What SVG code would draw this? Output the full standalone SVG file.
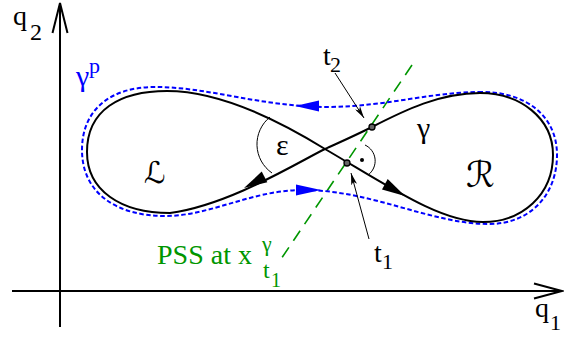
<svg xmlns="http://www.w3.org/2000/svg" width="564" height="338" viewBox="0 0 564 338">
<style>
.lbl{font-family:"Liberation Serif","DejaVu Serif",serif;fill:#000}
.big{font-size:28px}
.sub{font-size:22px}
.blue{fill:#0000ff}
.green{fill:#009600}
.script{font-family:"DejaVu Serif","DejaVu Sans",serif;font-style:italic}
.axis{stroke:#000;stroke-width:2;fill:none}
.gamma{stroke:#000;stroke-width:2;fill:none}
.gp{stroke:#0000ff;stroke-width:2;fill:none;stroke-dasharray:4.5 2.5}
.pss{stroke:#009600;stroke-width:1.6;fill:none;stroke-dasharray:12 8}
.thin{stroke:#000;stroke-width:1;fill:none}
.pt{stroke:#000;stroke-width:1.3;fill:#666}
</style>
<defs>
<marker id="ptr" viewBox="0 0 12 6" refX="12" refY="3" markerWidth="12" markerHeight="6" markerUnits="userSpaceOnUse" orient="auto">
<path d="M0,0 L12,3 L0,6 L3,3 Z" fill="#000"/>
</marker>
</defs>

<g id="axes">
<line class="axis" x1="60" y1="327" x2="60" y2="3"/>
<polyline class="axis" points="52.5,33 60,3 67.5,33"/>
<line class="axis" x1="12" y1="291" x2="562" y2="291"/>
<polyline class="axis" points="534,283.5 562,291 534,298.5"/>
</g>

<g id="pss-line">
<line class="pss" x1="412" y1="65" x2="279" y2="262"/>
</g>

<g id="gamma-p">
<path class="gp" d="M482,92 C430,92 390,106 330,107 C260,107 210,87 155,87 C110,87 82,110 82,150 C82,192 115,216 165,216 C210,216 250,191 300,190 C370,189 430,224 489,224 C530,224 557,195 557,155 C557,115 525,92 482,92 Z"/>
<polygon points="295,106 319,100.5 319,111.5" fill="#0000ff"/>
<polygon points="321,190 296,184.5 296,195.5" fill="#0000ff"/>
</g>

<g id="gamma">
<path class="gamma" d="M325,149 C390,187 440,222 483,222 C522,222 553,195 553,155 C553,118 520,93 480,93 C440,93 405,110 372,127 C352,137 338,143 325,149 C300,161 230,205 170,213 C120,213 87,190 87,152 C87,110 120,91 167,91 C215,91 270,115 325,149 Z"/>
<polygon points="405,196 382,189.5 387.7,179" fill="#000"/>
<polygon points="244,188 261.7,171.6 267.3,182.2" fill="#000"/>
</g>

<g id="angles">
<path class="thin" d="M270,117 A35,35 0 0 0 272,173"/>
<path class="thin" d="M365,145 A17.5,17.5 0 0 1 368,175"/>
<circle cx="362" cy="160" r="2" fill="#000"/>
</g>

<g id="points">
<circle class="pt" cx="372" cy="127" r="3"/>
<circle class="pt" cx="347" cy="163" r="3"/>
</g>

<g id="connectors">
<line class="thin" x1="335" y1="73" x2="364" y2="118" marker-end="url(#ptr)"/>
<line class="thin" x1="369" y1="239" x2="351" y2="173" marker-end="url(#ptr)"/>
</g>

<g id="labels">
<text class="lbl big" x="13" y="25">q</text>
<text class="lbl" style="font-size:24px" x="30" y="40">2</text>
<text class="lbl big" x="535" y="317">q</text>
<text class="lbl" style="font-size:22px" x="550" y="330">1</text>
<text class="lbl big blue" x="76" y="86" style="font-size:30px">γ</text>
<text class="lbl sub blue" x="89" y="73">p</text>
<text class="lbl" style="font-size:30px" x="276" y="155">ε</text>
<text class="lbl" style="font-size:30px" x="417" y="138">γ</text>
<text class="lbl big" x="323" y="65">t</text>
<text class="lbl sub" x="330" y="72">2</text>
<text class="lbl big" x="374" y="262">t</text>
<text class="lbl sub" x="382" y="269">1</text>
<text class="lbl script" style="font-size:30px" x="144" y="183">ℒ</text>
<text class="lbl script" style="font-size:36px" x="466" y="187">ℛ</text>
<text class="lbl big green" x="157" y="264">PSS at x</text>
<text class="lbl green" style="font-size:22px" x="262" y="251">γ</text>
<text class="lbl green" style="font-size:24px" x="263" y="278">t</text>
<text class="lbl green" style="font-size:20px" x="271" y="287">1</text>
</g>
</svg>
